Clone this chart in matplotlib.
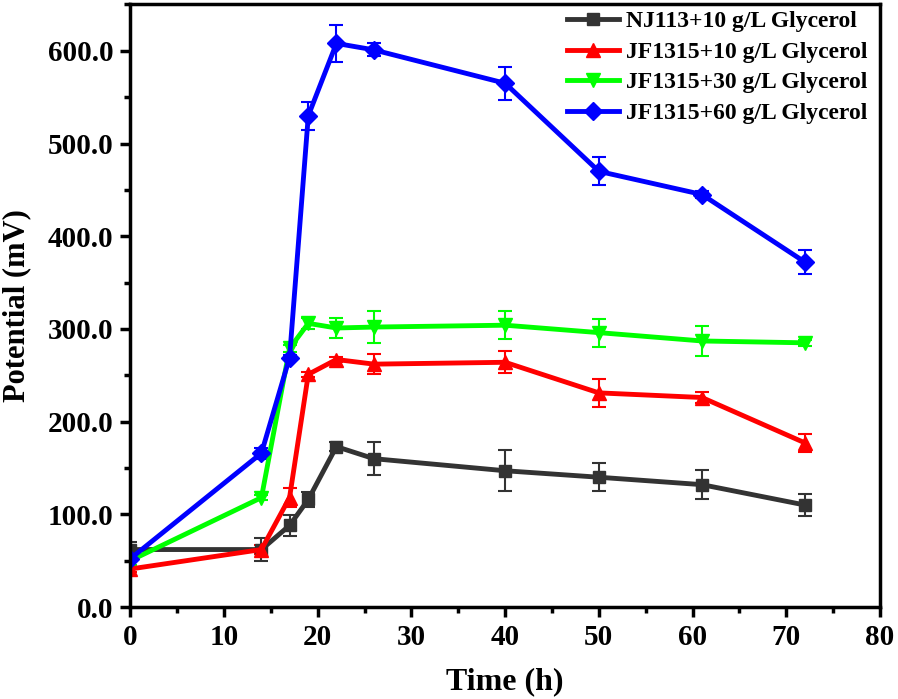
import matplotlib
matplotlib.use("Agg")
import matplotlib.pyplot as plt
from matplotlib.lines import Line2D
from matplotlib.ticker import MultipleLocator, FormatStrFormatter

plt.rcParams['font.family'] = ['Liberation Serif', 'DejaVu Serif']
plt.rcParams['font.weight'] = 'bold'

time_h = [0, 14, 17, 19, 22, 26, 40, 50, 61, 72]

labels = ["NJ113+10 g/L Glycerol", "JF1315+10 g/L Glycerol",
          "JF1315+30 g/L Glycerol", "JF1315+60 g/L Glycerol"]

nj113_10 = [62, 62, 88, 116, 173, 160, 147, 140, 132, 110]
nj113_10_err = [8, 12, 11, 8, 5, 18, 22, 15, 16, 12]

jf1315_10 = [41, 62, 118, 251, 267, 262, 264, 231, 226, 177]
jf1315_10_err = [3, 5, 10, 3, 3, 11, 12, 15, 6, 10]

jf1315_30 = [50, 118, 279, 306, 301, 302, 304, 296, 287, 285]
jf1315_30_err = [5, 3, 4, 6, 11, 17, 15, 15, 16, 3]

jf1315_60 = [52, 166, 269, 530, 608, 601, 565, 470, 445, 372]
jf1315_60_err = [3, 6, 3, 15, 20, 7, 18, 15, 4, 13]

series = [nj113_10, jf1315_10, jf1315_30, jf1315_60]
errors = [nj113_10_err, jf1315_10_err, jf1315_30_err, jf1315_60_err]
colors = ["#333333", "#FF0000", "#00FF00", "#0000FF"]
markers = ["s", "^", "v", "D"]
msizes = [9, 10, 10, 9]

fig = plt.figure(figsize=(8.98, 6.99), dpi=100)
ax = fig.add_axes([0.145, 0.1316, 0.835, 0.862])

handles = []
for y, e, c, m, ms, lab in zip(series, errors, colors, markers, msizes, labels):
    ax.errorbar(time_h, y, yerr=e, color=c, marker=m, markersize=ms, linewidth=3.5,
                elinewidth=1.5, capsize=5, capthick=1.5)
    handles.append(Line2D([], [], color=c, marker=m, markersize=ms, linewidth=3.5, label=lab))

ax.set_xlim(0, 80)
ax.set_ylim(0, 650)
ax.xaxis.set_major_locator(MultipleLocator(10))
ax.xaxis.set_minor_locator(MultipleLocator(5))
ax.yaxis.set_major_locator(MultipleLocator(100))
ax.yaxis.set_minor_locator(MultipleLocator(50))
ax.yaxis.set_major_formatter(FormatStrFormatter('%.1f'))

for s in ax.spines.values():
    s.set_linewidth(2.5)
ax.tick_params(which='major', direction='out', length=7, width=2.5, labelsize=21,
               top=False, right=False, pad=5)
ax.tick_params(which='minor', direction='out', length=4, width=2.5, top=False, right=False)
for lbl in ax.get_xticklabels() + ax.get_yticklabels():
    lbl.set_fontweight('bold')

ax.set_xlabel("Time (h)", fontsize=23, fontweight='bold', labelpad=12)
ax.set_ylabel("Potential (mV)", fontsize=22, fontweight='bold', labelpad=12)

leg = ax.legend(handles=handles, loc='upper right', bbox_to_anchor=(1.005, 1.017),
                frameon=False, prop={'weight': 'bold', 'size': 17},
                handlelength=2.2, labelspacing=0.38, borderaxespad=0.3, handletextpad=0.3)

fig.savefig("out.png", dpi=100)
